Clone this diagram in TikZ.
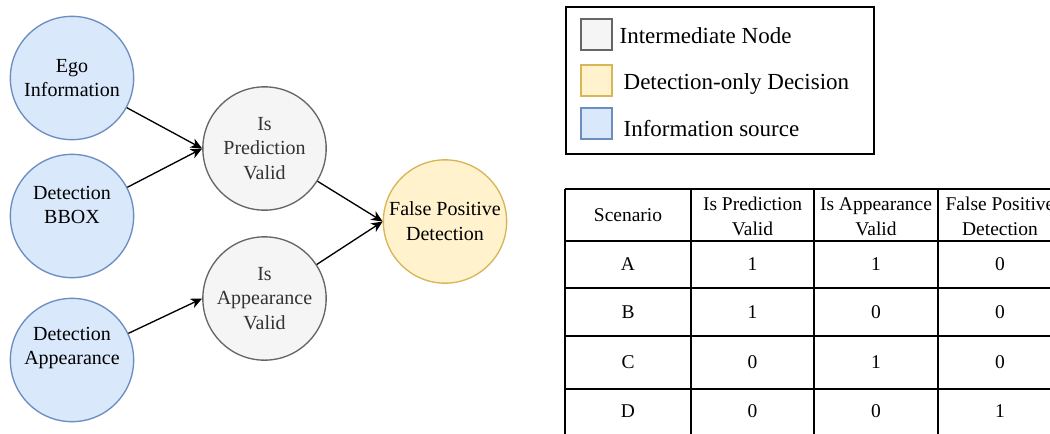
\documentclass[tikz,border=0pt]{standalone}
\usepackage{fontspec}
\setmainfont{Liberation Serif}
\usetikzlibrary{arrows.meta}
\definecolor{infofill}{HTML}{DAE8FC}
\definecolor{infoline}{HTML}{6C8EBF}
\definecolor{midfill}{HTML}{F5F5F5}
\definecolor{midline}{HTML}{666666}
\definecolor{midtext}{HTML}{333333}
\definecolor{decfill}{HTML}{FFF2CC}
\definecolor{decline}{HTML}{D6B656}
\tikzset{
  bubble/.style={circle, minimum size=92.5pt, inner sep=0pt, align=center,
    font=\fontsize{15}{18.6}\selectfont},
  info/.style={bubble, draw=infoline, fill=infofill},
  infolbl/.style={align=center, inner sep=0pt, font=\fontsize{15}{18.6}\selectfont},
  mid/.style={bubble, draw=midline, fill=midfill, text=midtext},
  decision/.style={bubble, draw=decline, fill=decfill},
  arr/.style={-{Stealth[length=8.5pt,width=7.5pt,inset=2.5pt]}},
  swatch/.style={minimum size=23.25pt, inner sep=0pt},
  legtext/.style={anchor=base west, inner sep=0pt, font=\fontsize{17.25}{20}\selectfont},
  cell/.style={align=center, inner sep=0pt, font=\fontsize{14.6}{18.5}\selectfont}
}
\begin{document}
\begin{tikzpicture}[x=0.75pt, y=-0.75pt, line width=1pt]
  \clip (0,0) rectangle (1050,433);
  % graph
  \node[info] (ego) at (72,78) {Ego\\Information};
  \node[info] (bbox) at (72,216) {};
  \node[infolbl] (bboxlbl) at (72,205) {Detection\\BBOX};
  \node[info] (appear) at (72,360) {};
  \node[infolbl] (appearlbl) at (72,348) {Detection\\Appearance};
  \node[mid] (pred) at (264.5,148.5) {Is\\Prediction\\Valid};
  \node[mid] (appv) at (264.5,298.5) {Is\\Appearance\\Valid};
  \node[decision] (fp) at (445,221.5) {False Positive\\Detection};
  \draw[arr] (ego) -- (pred.west);
  \draw[arr] (bbox) -- (pred.west);
  \draw[arr] (appear) -- (appv.west);
  \draw[arr] (pred) -- (fp.west);
  \draw[arr] (appv) -- (fp.west);
  % legend
  \draw (566,7) rectangle (874,154);
  \node[swatch, draw=midline, fill=midfill] (swmid) at (596.5,34.5) {};
  \node[swatch, draw=decline, fill=decfill] (swdec) at (596.5,80.5) {};
  \node[swatch, draw=infoline, fill=infofill] (swinfo) at (596.5,123.5) {};
  \node[legtext] (lgmid) at (619,43.5) {Intermediate Node};
  \node[legtext] (lgdec) at (623,89.5) {Detection-only Decision};
  \node[legtext] (lginfo) at (623,136) {Information source};
  % table
  \foreach \y in {189,241,288,336,389}
    \draw (565,\y) -- (1080,\y);
  \foreach \x in {565,691,814,938,1062}
    \draw (\x,189) -- (\x,450);
  \node[cell] (hscen) at (628,215) {Scenario};
  \node[cell] (hpred) at (752.5,216.5) {Is Prediction\\Valid};
  \node[cell] (happ) at (876,216.5) {Is Appearance\\Valid};
  \node[cell] (hfp) at (1000,216.5) {False Positive\\Detection};
  \foreach \lab/\p/\a/\f/\y in {A/1/1/0/264.5, B/1/0/0/312, C/0/1/0/362.5, D/0/0/1/411}{
    \node[cell] (s\lab) at (628,\y) {\lab};
    \node[cell] (p\lab) at (752.5,\y) {\p};
    \node[cell] (a\lab) at (876,\y) {\a};
    \node[cell] (f\lab) at (1000,\y) {\f};
  }
\end{tikzpicture}
\end{document}
